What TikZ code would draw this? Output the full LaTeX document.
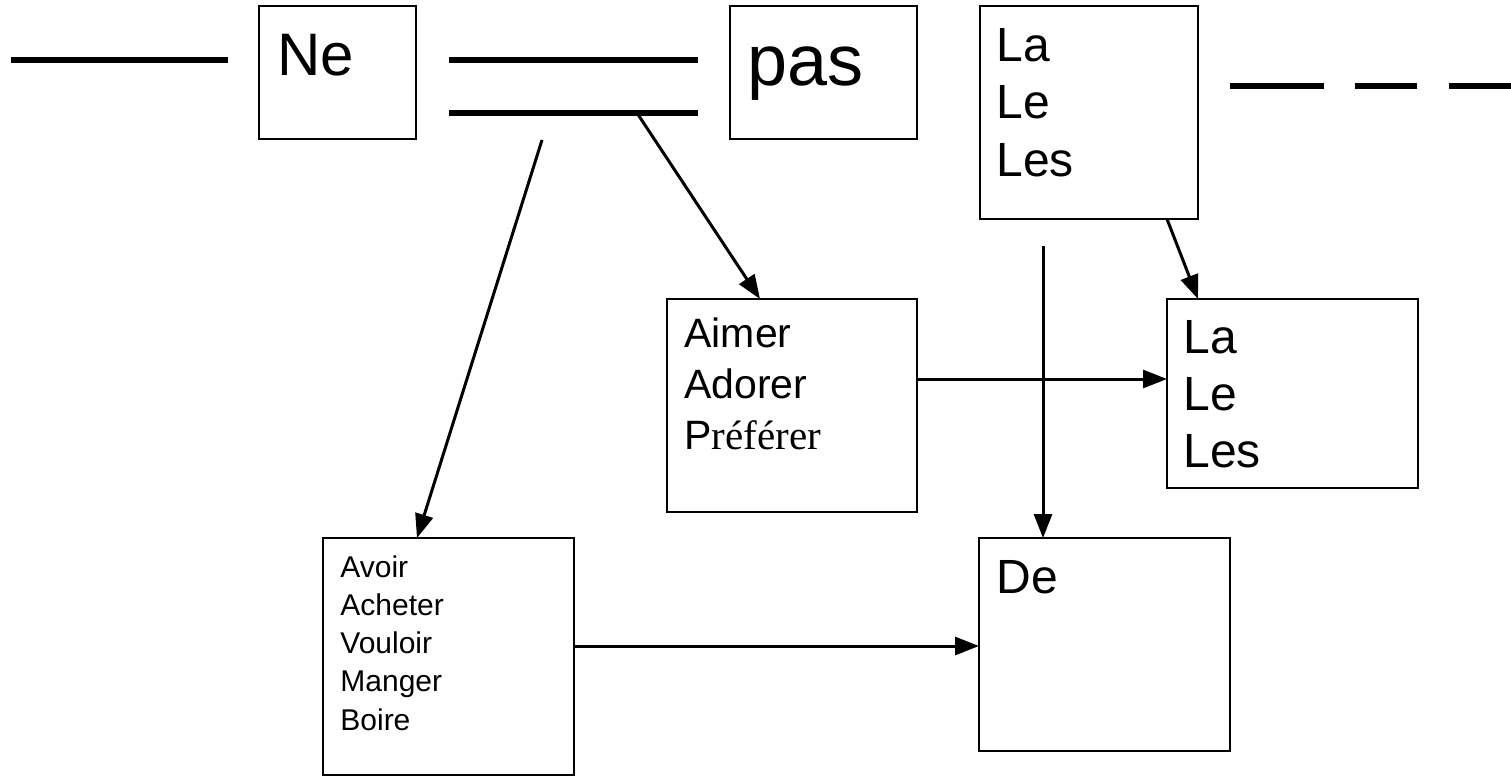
\documentclass[tikz,border=0pt]{standalone}
\usepackage{fontspec}
\setmainfont{Liberation Sans}
\newfontfamily\serifword{Liberation Serif}
\usetikzlibrary{arrows.meta,calc}
\tikzset{
  box/.style={draw, line width=1pt, inner sep=0pt, outer sep=0pt, anchor=north west},
  word/.style={inner sep=0pt, anchor=base west},
  arr/.style={line width=1.5pt, -{Triangle[length=12pt,width=9pt]}},
  bar/.style={line width=3pt},
}
\begin{document}
\begin{tikzpicture}[x=0.5pt,y=-0.5pt]
                \useasboundingbox (0,0) rectangle (1511,778);
                \draw[bar] (11,60)--(228,60) ;
                \draw[bar] (449,60)--(698,60) ;
                \draw[bar] (449,113)--(698,113) ;
                \draw[bar,dash pattern=on 47pt off 15.5pt on 31pt off 16pt on 31pt] (1230,86)--(1511,86) ;
                \node[box,minimum width=78.5pt,minimum height=66.5pt] (ne) at (259,6) {};
                \node[box,minimum width=93.5pt,minimum height=66.5pt] (pas) at (730,6) {};
                \node[box,minimum width=109pt,minimum height=106.5pt] (art) at (980,6) {};
                \node[box,minimum width=125pt,minimum height=106.5pt] (verba) at (667,299) {};
                \node[box,minimum width=125.5pt,minimum height=94.5pt] (artb) at (1167,299) {};
                \node[box,minimum width=125.5pt,minimum height=118.5pt] (verbb) at (323,538) {};
                \node[box,minimum width=125.5pt,minimum height=106.5pt] (de) at (979,538) {};
                \node[word,font=\fontsize{30}{30}\selectfont] (ne-t) at (277,75) {Ne};
                \node[word,font=\fontsize{36}{36}\selectfont] (pas-t) at (747,85) {pas};
                \foreach \w [count=\i from 0] in {La,Le,Les}
                  \node[word,font=\fontsize{24}{24}\selectfont] (art-\i) at (996,{61+57.5*\i}) {\w};
                \foreach \w [count=\i from 0] in {Aimer,Adorer,P{\serifword référer}}
                  \node[word,font=\fontsize{20.5}{20.5}\selectfont] (verba-\i) at (684,{347+51*\i}) {\w};
                \foreach \w [count=\i from 0] in {La,Le,Les}
                  \node[word,font=\fontsize{24}{24}\selectfont] (artb-\i) at (1183,{353+57*\i}) {\w};
                \foreach \w [count=\i from 0] in {Avoir,Acheter,Vouloir,Manger,Boire}
                  \node[word,font=\fontsize{15}{15}\selectfont] (verbb-\i) at (340,{577+38.25*\i}) {\w};
                \node[word,font=\fontsize{24}{24}\selectfont] (de-t) at (996,593) {De};
                \coordinate (split) at (637,113);
                \coordinate (fork) at (542,140);
                \coordinate (cross) at (1043,246);
                \draw[arr] (split)--($(verba.north west)+(93,0)$) ;
                \draw[arr] (fork)--($(verbb.north west)+(94,0)$) ;
                \draw[arr] ($(verba.north east)+(0,80)$)--($(artb.north west)+(0,80)$) ;
                \draw[arr] ($(art.south west)+(187,0)$)--($(artb.north west)+(31,0)$) ;
                \draw[arr] (cross)--($(de.north west)+(64,0)$) ;
                \draw[arr] ($(verbb.north east)+(0,108)$)--($(de.north west)+(0,108)$) ;
            \end{tikzpicture}
\end{document}
